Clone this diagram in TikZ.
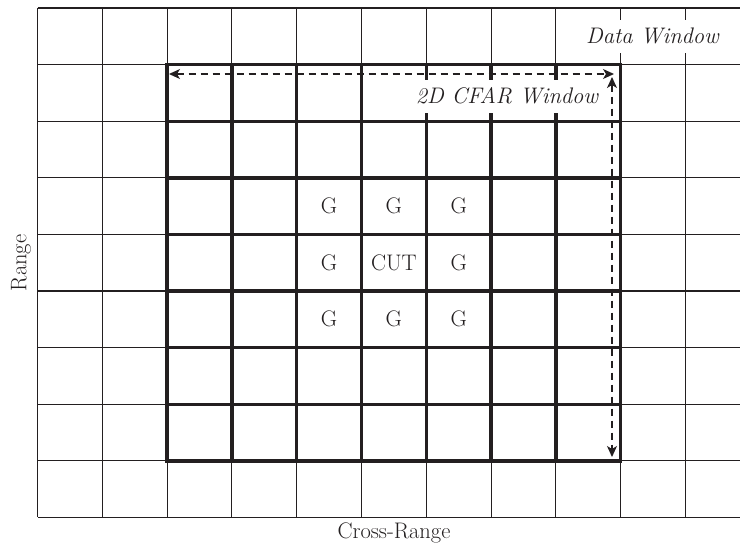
\documentclass[tikz,border=0pt]{standalone}
\usetikzlibrary{arrows.meta}
\definecolor{ink}{HTML}{231F20}
\begin{document}
\begin{tikzpicture}[x=1pt,y=-1pt,
  gridline/.style={line width=1.1pt, draw=ink},
  winline/.style={line width=3.4pt, draw=ink, line cap=rect},
  lbl/.style={font=\fontsize{22.5}{27}\selectfont, text=ink},
  boxlbl/.style={font=\fontsize{22.5}{27}\selectfont\itshape, text=ink, fill=white, inner xsep=4pt, inner ysep=0pt, minimum height=33pt},
  dasharrow/.style={line width=1.3pt, draw=ink, dash pattern=on 7pt off 5pt, {Stealth[length=11pt,width=10pt,inset=3pt]}-{Stealth[length=11pt,width=10pt,inset=3pt]}}]
\useasboundingbox (0,0) rectangle (740,547);
% data grid
\begin{scope}
\clip (0,0) rectangle (740,547);
\foreach \k in {0,...,9} \draw[gridline] (37.5,8+56.6*\k) -- (751,8+56.6*\k);
\foreach \j in {0,...,11} \draw[gridline] (37.5+64.8*\j,8) -- (37.5+64.8*\j,517.4);
\end{scope}
% CFAR window
\foreach \j in {2,...,9} \draw[winline] (37.5+64.8*\j,64.6) -- (37.5+64.8*\j,460.8);
\foreach \k in {1,...,8} \draw[winline] (167.1,8+56.6*\k) -- (620.7,8+56.6*\k);
% labels on boxes
\node[boxlbl] (dw) at (652.5,36) {Data Window};
\node[boxlbl] (cw) at (507,96) {2D CFAR Window};
% cells
\node[lbl] (g1) at (329.1,206.1) {G};
\node[lbl] (g2) at (393.9,206.1) {G};
\node[lbl] (g3) at (458.7,206.1) {G};
\node[lbl] (g4) at (329.1,262.7) {G};
\node[lbl] (cut) at (393.9,262.7) {CUT};
\node[lbl] (g5) at (458.7,262.7) {G};
\node[lbl] (g6) at (329.1,319.3) {G};
\node[lbl] (g7) at (393.9,319.3) {G};
\node[lbl] (g8) at (458.7,319.3) {G};
% axes labels
\node[lbl, rotate=90] (range) at (21,263) {Range};
\node[lbl] (cross) at (394,533) {Cross-Range};
% arrows
\coordinate (hl) at (169,74);
\coordinate (hr) at (614,74);
\coordinate (vt) at (612,77);
\coordinate (vb) at (612,457);
\draw[dasharrow] (hl) -- (hr);
\draw[dasharrow] (vt) -- (vb);
\end{tikzpicture}
\end{document}
